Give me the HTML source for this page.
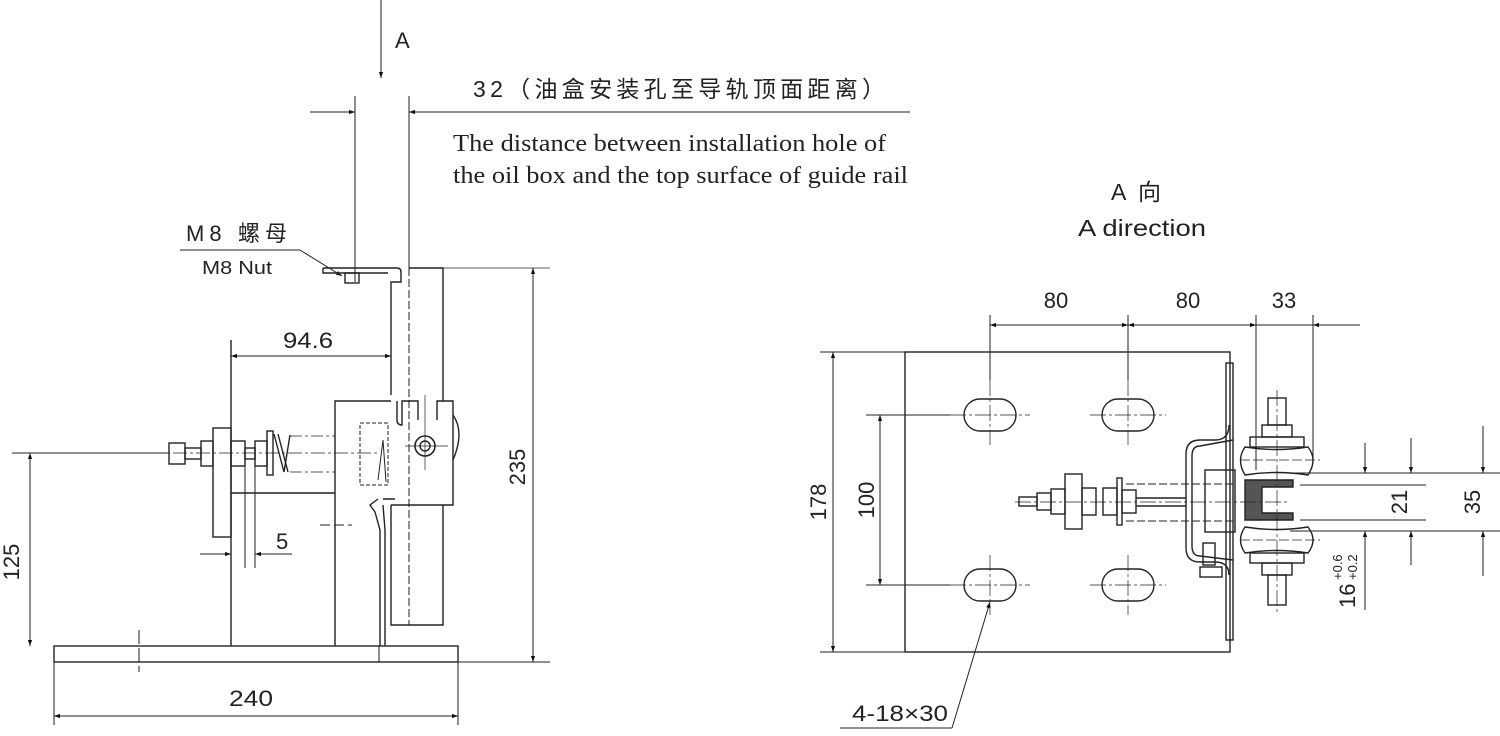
<!DOCTYPE html>
<html><head><meta charset="utf-8"><style>
html,body{margin:0;padding:0;background:#fff;}
svg{display:block;}
text{font-family:"Liberation Sans","Noto Sans CJK SC",sans-serif;fill:#222;}
.s{font-family:"Liberation Serif","Noto Serif CJK SC",serif;}
</style></head><body>
<svg width="1500" height="736" viewBox="0 0 1500 736" xmlns="http://www.w3.org/2000/svg">
<defs>
<marker id="ar" viewBox="0 0 10 10" refX="10" refY="5" markerWidth="18" markerHeight="6" markerUnits="userSpaceOnUse" orient="auto-start-reverse"><path d="M0,1.5L10,5L0,8.5z" fill="#111"/></marker>
</defs>
<g stroke="#222" stroke-width="1" fill="none">
<line x1="381" y1="0" x2="381" y2="78" marker-end="url(#ar)"/>
<line x1="355" y1="96" x2="355" y2="282"/>
<line x1="409" y1="96" x2="409" y2="268"/>
<line x1="310" y1="112" x2="355" y2="112" marker-end="url(#ar)"/>
<line x1="910" y1="112" x2="409" y2="112" marker-end="url(#ar)"/>
<line x1="180" y1="250" x2="300" y2="250"/>
<line x1="300" y1="250" x2="342" y2="276" marker-end="url(#ar)"/>
<path d="M323,268 L397,268 Q401,268 401,272 L401,282 L391,282 L391,395" stroke-width="1.4"/>
<path d="M323,268 L323,273 L388,273" stroke-width="1.4"/>
<rect x="345" y="273" width="14" height="10" stroke-width="1.4"/>
<path d="M409,268 L443,268 L443,401 M391,505 L391,625 L443,625 L443,505" stroke-width="1.4"/>
<line x1="409" y1="268" x2="409" y2="625" stroke-dasharray="8,3"/>
<line x1="443" y1="268" x2="550" y2="268" stroke-width="0.8"/>
<path d="M335,646 L335,401 L391,401 M397,401 L397,420 Q397,425 402,425 L402,401 L418,401 L418,420 M437,420 L437,401 L453,401 L453,505 L391,505" stroke-width="1.4"/>
<path d="M453,415 Q465,432 453,460" stroke-width="1.4"/>
<circle cx="425" cy="446" r="10" stroke-width="1.6"/>
<circle cx="425" cy="446" r="5" stroke-width="1.4"/>
<line x1="425" y1="395" x2="425" y2="470" stroke-width="0.7"/>
<line x1="405" y1="446" x2="448" y2="446" stroke-width="0.7"/>
<rect x="360" y="423" width="28" height="62" stroke-dasharray="4,2"/>
<path d="M378,480 L383,440 L386,482" stroke-width="1"/>
<path d="M378,499 L370,505 L375,512 L380,530 L380,646 M383,499 L395,499 M383,505 L385,530 L385,646" stroke-width="1.4"/>
<line x1="320" y1="525" x2="352" y2="525" stroke-dasharray="10,4"/>
<line x1="231" y1="340" x2="231" y2="646" stroke-width="1.4"/>
<line x1="231" y1="493" x2="335" y2="493" stroke-width="1.4"/>
<rect x="213" y="428" width="18" height="109" stroke-width="1.4"/>
<line x1="150" y1="453" x2="380" y2="453" stroke-width="0.7" stroke-dasharray="14,3,3,3"/>
<rect x="169" y="443" width="16" height="21" stroke-width="1.4"/>
<rect x="185" y="448" width="16" height="11" stroke-width="1.4"/>
<rect x="201" y="441" width="12" height="25" stroke-width="1.4"/>
<rect x="231" y="441" width="14" height="25" stroke-width="1.4"/>
<rect x="245" y="448" width="10" height="11" stroke-width="1.4"/>
<rect x="255" y="441" width="12" height="25" stroke-width="1.4"/>
<rect x="267" y="431" width="6" height="44" stroke-width="1.4"/>
<path d="M274,434 L284,472 L290,435" stroke-width="1.4"/>
<path d="M278,434 L288,472" stroke-width="1.4"/>
<line x1="290" y1="436" x2="335" y2="436" stroke-dasharray="12,3,3,3" stroke-width="0.8"/>
<line x1="290" y1="472" x2="335" y2="472" stroke-dasharray="12,3,3,3" stroke-width="0.8"/>
<line x1="245" y1="466" x2="245" y2="568"/>
<line x1="255" y1="466" x2="255" y2="568"/>
<rect x="54" y="646" width="404" height="16" stroke-width="1.4"/>
<line x1="379" y1="646" x2="379" y2="662"/>
<line x1="139" y1="630" x2="139" y2="672" stroke-dasharray="14,4"/>
<line x1="231" y1="356" x2="391" y2="356" marker-start="url(#ar)" marker-end="url(#ar)"/>
<line x1="200" y1="554" x2="231" y2="554" marker-end="url(#ar)"/>
<line x1="292" y1="554" x2="255" y2="554" marker-end="url(#ar)"/>
<line x1="12" y1="453" x2="168" y2="453"/>
<line x1="30" y1="453" x2="30" y2="646" marker-start="url(#ar)" marker-end="url(#ar)"/>
<line x1="54" y1="662" x2="54" y2="725"/>
<line x1="458" y1="662" x2="458" y2="725"/>
<line x1="54" y1="716" x2="458" y2="716" marker-start="url(#ar)" marker-end="url(#ar)"/>
<line x1="533" y1="268" x2="533" y2="662" marker-start="url(#ar)" marker-end="url(#ar)"/>
<line x1="458" y1="662" x2="550" y2="662"/>

<rect x="905" y="352" width="325" height="300" stroke-width="1.4"/>
<g stroke-width="1.4">
<rect x="964" y="399" width="52" height="32" rx="16"/>
<rect x="1102" y="399" width="52" height="32" rx="16"/>
<rect x="964" y="569" width="52" height="32" rx="16"/>
<rect x="1102" y="569" width="52" height="32" rx="16"/>
</g>
<g stroke-width="0.7" stroke-dasharray="16,3,3,3">
<line x1="950" y1="415" x2="1030" y2="415"/><line x1="1090" y1="415" x2="1166" y2="415"/>
<line x1="950" y1="585" x2="1030" y2="585"/><line x1="1090" y1="585" x2="1166" y2="585"/>
<line x1="1128" y1="380" x2="1128" y2="445"/><line x1="1128" y1="555" x2="1128" y2="615"/>
<line x1="990" y1="555" x2="990" y2="615"/><line x1="990" y1="380" x2="990" y2="445"/>
</g>
<line x1="990" y1="315" x2="990" y2="380"/>
<line x1="1128" y1="315" x2="1128" y2="380"/>
<line x1="1256" y1="315" x2="1256" y2="470"/>
<line x1="1313" y1="315" x2="1313" y2="460"/>
<line x1="990" y1="325" x2="1128" y2="325" marker-start="url(#ar)" marker-end="url(#ar)"/>
<line x1="1128" y1="325" x2="1256" y2="325" marker-start="url(#ar)" marker-end="url(#ar)"/>
<line x1="1360" y1="325" x2="1313" y2="325" marker-end="url(#ar)"/>
<line x1="1256" y1="325" x2="1313" y2="325"/>
<line x1="820" y1="352" x2="905" y2="352"/>
<line x1="820" y1="652" x2="905" y2="652"/>
<line x1="833" y1="352" x2="833" y2="652" marker-start="url(#ar)" marker-end="url(#ar)"/>
<line x1="866" y1="415" x2="950" y2="415"/>
<line x1="866" y1="585" x2="950" y2="585"/>
<line x1="880" y1="415" x2="880" y2="585" marker-start="url(#ar)" marker-end="url(#ar)"/>
<rect x="1226" y="363" width="7" height="277" stroke-width="1.4"/>
<path d="M1229,425 Q1229,440 1215,440 L1200,440 Q1186,440 1186,454 L1186,548 Q1186,562 1200,562 L1215,562 Q1229,562 1229,575" stroke-width="1.4"/>
<path d="M1233,440 L1200,446 Q1192,446 1192,456 L1192,546 Q1192,556 1200,556 L1233,560" stroke-width="1.4"/>
<rect x="1205" y="470" width="30" height="62" stroke-width="1.4"/>
<rect x="1203" y="543" width="12" height="22" stroke-width="1.4"/>
<rect x="1200" y="567" width="22" height="10" stroke-width="1.4"/>
<path d="M1245,447 Q1236,460 1245,475 Q1276,470 1308,475 Q1318,460 1308,447 Q1276,452 1245,447 Z" stroke-width="1.4"/>
<path d="M1245,527 Q1236,540 1245,553 Q1276,548 1308,553 Q1318,540 1308,527 Q1276,532 1245,527 Z" stroke-width="1.4"/>
<path d="M1245,480 L1293,480 L1293,487 L1262,487 L1262,513 L1293,513 L1293,520 L1245,520 Z" fill="#555" stroke-width="1.4"/>
<rect x="1250" y="437" width="54" height="10" stroke-width="1.4"/>
<rect x="1250" y="553" width="54" height="10" stroke-width="1.4"/>
<rect x="1262" y="425" width="30" height="12" stroke-width="1.4"/>
<rect x="1262" y="563" width="30" height="12" stroke-width="1.4"/>
<rect x="1268" y="398" width="18" height="27" stroke-width="1.4"/>
<rect x="1268" y="575" width="18" height="30" stroke-width="1.4"/>
<line x1="1277" y1="390" x2="1277" y2="615" stroke-width="0.7" stroke-dasharray="16,3,3,3"/>
<line x1="1240" y1="460" x2="1320" y2="460" stroke-width="0.7" stroke-dasharray="10,3"/>
<line x1="1240" y1="540" x2="1320" y2="540" stroke-width="0.7" stroke-dasharray="10,3"/>
<line x1="1015" y1="502" x2="1290" y2="502" stroke-width="0.7" stroke-dasharray="16,3,3,3"/>
<rect x="1019" y="497" width="18" height="9" stroke-width="1.4"/>
<rect x="1037" y="493" width="14" height="17" stroke-width="1.4"/>
<rect x="1051" y="489" width="14" height="25" stroke-width="1.4"/>
<rect x="1065" y="474" width="17" height="55" stroke-width="1.4"/>
<rect x="1082" y="488" width="14" height="27" stroke-width="1.4"/>
<rect x="1103" y="488" width="14" height="27" stroke-width="1.4"/>
<rect x="1117" y="478" width="5" height="47" stroke-width="1.4"/>
<rect x="1122" y="490" width="14" height="23" stroke-width="1.4"/>
<line x1="1136" y1="498" x2="1186" y2="498" stroke-width="1.4"/>
<line x1="1136" y1="506" x2="1186" y2="506" stroke-width="1.4"/>
<line x1="1126" y1="484" x2="1235" y2="484" stroke-dasharray="8,3"/>
<line x1="1126" y1="521" x2="1235" y2="521" stroke-dasharray="8,3"/>
<line x1="1290" y1="473" x2="1500" y2="473"/>
<line x1="1290" y1="531" x2="1500" y2="531"/>
<line x1="1300" y1="485" x2="1426" y2="485"/>
<line x1="1300" y1="520" x2="1426" y2="520"/>
<line x1="1365" y1="443" x2="1365" y2="473" marker-end="url(#ar)"/>
<line x1="1365" y1="610" x2="1365" y2="531" marker-end="url(#ar)"/>
<line x1="1411" y1="438" x2="1411" y2="473" marker-end="url(#ar)"/>
<line x1="1411" y1="565" x2="1411" y2="531" marker-end="url(#ar)"/>
<line x1="1483" y1="426" x2="1483" y2="473" marker-end="url(#ar)"/>
<line x1="1483" y1="576" x2="1483" y2="531" marker-end="url(#ar)"/>
<line x1="840" y1="728" x2="952" y2="728"/>
<line x1="952" y1="728" x2="990" y2="602" marker-end="url(#ar)"/>
</g>
<g>
<text x="395" y="48" font-size="22">A</text>
<text x="473" y="97" font-size="23" textLength="412" lengthAdjust="spacing">32（油盒安装孔至导轨顶面距离）</text>
<text class="s" x="453" y="151" font-size="24" textLength="433" lengthAdjust="spacingAndGlyphs">The distance between installation hole of</text>
<text class="s" x="453" y="183" font-size="24" textLength="455" lengthAdjust="spacingAndGlyphs">the oil box and the top surface of guide rail</text>
<text x="186" y="241" font-size="22" textLength="101" lengthAdjust="spacing">M8 螺母</text>
<text x="202" y="274" font-size="18" textLength="70" lengthAdjust="spacingAndGlyphs">M8 Nut</text>
<text x="283" y="348" font-size="22" textLength="50" lengthAdjust="spacingAndGlyphs">94.6</text>
<text x="276" y="549" font-size="22">5</text>
<text x="229" y="706" font-size="22" textLength="44" lengthAdjust="spacingAndGlyphs">240</text>
<text transform="translate(19,562) rotate(-90)" text-anchor="middle" font-size="22">125</text>
<text transform="translate(525,467) rotate(-90)" text-anchor="middle" font-size="22">235</text>
<text x="1111" y="200" font-size="23" textLength="50" lengthAdjust="spacing">A 向</text>
<text x="1078" y="236" font-size="23" textLength="128" lengthAdjust="spacingAndGlyphs">A direction</text>
<text x="1056" y="308" text-anchor="middle" font-size="22">80</text>
<text x="1188" y="308" text-anchor="middle" font-size="22">80</text>
<text x="1284" y="308" text-anchor="middle" font-size="22">33</text>
<text transform="translate(826,502) rotate(-90)" text-anchor="middle" font-size="22">178</text>
<text transform="translate(874,500) rotate(-90)" text-anchor="middle" font-size="22">100</text>
<text transform="translate(1407,502) rotate(-90)" text-anchor="middle" font-size="22">21</text>
<text transform="translate(1480,502) rotate(-90)" text-anchor="middle" font-size="22">35</text>
<text transform="translate(1355,608) rotate(-90)" font-size="22">16</text>
<text transform="translate(1342,580) rotate(-90)" font-size="13">+0.6</text>
<text transform="translate(1357,580) rotate(-90)" font-size="13">+0.2</text>
<text x="852" y="721" font-size="22" textLength="96" lengthAdjust="spacingAndGlyphs">4-18×30</text>
</g>
</svg>
</body></html>
